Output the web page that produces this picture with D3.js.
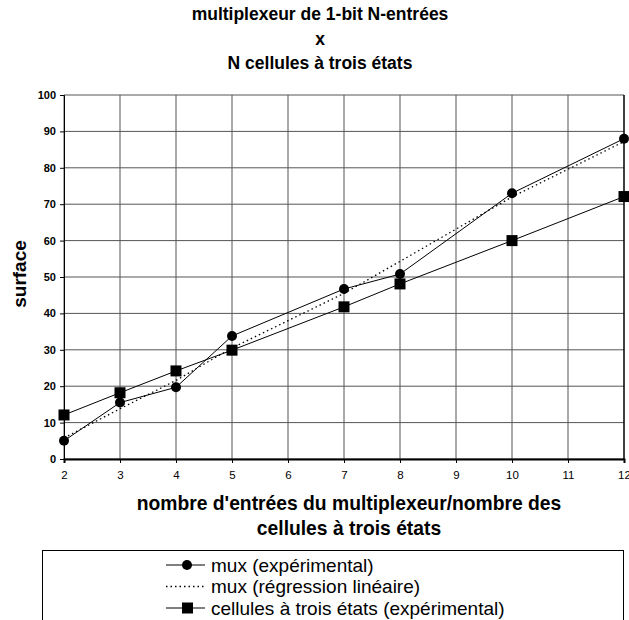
<!DOCTYPE html>
<html>
<head>
<meta charset="utf-8">
<script src="https://cdn.jsdelivr.net/npm/d3@7"></script>
<style>
  html, body { margin: 0; padding: 0; background: #fff; }
  svg { display: block; font-family: Arial, "Liberation Sans", sans-serif; }
</style>
</head>
<body>
<div id="chart"></div>
<script>
// x values (N) where measurements exist
const nValues = [2, 3, 4, 5, 7, 8, 10, 12];
const muxExp = [5, 15.5, 19.7, 33.8, 46.7, 50.8, 73, 88];
const muxReg = [5.8, 13.8, 21.6, 30.5, 45.5, 54.3, 72, 87.2];
const cellsExp = [12.1, 18.2, 24.2, 29.9, 41.8, 48.1, 60, 72.1];

const xTicks = [2, 3, 4, 5, 6, 7, 8, 9, 10, 11, 12];
const yTicks = [0, 10, 20, 30, 40, 50, 60, 70, 80, 90, 100];

const titleLines = ['multiplexeur de 1-bit N-entrées', 'x', 'N cellules à trois états'];
const xLabelLines = ["nombre d'entrées du multiplexeur/nombre des", 'cellules à trois états'];
const legendLabels = ['mux (expérimental)', 'mux (régression linéaire)', 'cellules à trois états (expérimental)'];

const W = 629, H = 620;
const margin = { top: 95, right: 5, bottom: 161, left: 64 };

const svg = d3.select('#chart').append('svg')
  .attr('width', W)
  .attr('height', H);

const x = d3.scaleLinear().domain([2, 12]).range([margin.left, W - margin.right]);
const y = d3.scaleLinear().domain([0, 100]).range([H - margin.bottom, margin.top]);

// title
svg.append('text')
  .attr('text-anchor', 'middle')
  .attr('font-size', 17.5)
  .attr('font-weight', 'bold')
  .selectAll('tspan')
  .data(titleLines)
  .enter()
  .append('tspan')
  .attr('x', 320)
  .attr('y', (d, i) => 20 + i * 24.5)
  .text(d => d);

// grid
svg.append('g')
  .selectAll('line.h')
  .data(yTicks)
  .enter()
  .append('line')
  .attr('x1', x(2)).attr('x2', x(12))
  .attr('y1', d => y(d)).attr('y2', d => y(d))
  .attr('stroke', '#555')
  .attr('stroke-width', 1);

svg.append('g')
  .selectAll('line.v')
  .data(xTicks)
  .enter()
  .append('line')
  .attr('x1', d => x(d)).attr('x2', d => x(d))
  .attr('y1', y(0)).attr('y2', y(100))
  .attr('stroke', d => d === 12 ? '#000' : '#555')
  .attr('stroke-width', d => d === 12 ? 1.5 : 1);

// axes
const yAxis = svg.append('g')
  .attr('transform', `translate(${x(2)},0)`)
  .call(d3.axisLeft(y).tickValues(yTicks).tickSize(4).tickPadding(4));
yAxis.selectAll('text').attr('font-size', 11).attr('font-weight', 'bold').attr('fill', '#000').attr('font-family', null);

const xAxis = svg.append('g')
  .attr('transform', `translate(0,${y(0)})`)
  .call(d3.axisBottom(x).tickValues(xTicks).tickFormat(d3.format('d')).tickSize(4).tickPadding(8));
xAxis.selectAll('text').attr('font-size', 11.5).attr('fill', '#000').attr('font-family', null);
xAxis.select('.domain').attr('stroke-width', 2);

// axis titles
svg.append('text')
  .attr('transform', `translate(26,274) rotate(-90)`)
  .attr('text-anchor', 'middle')
  .attr('font-size', 19)
  .attr('font-weight', 'bold')
  .text('surface');

svg.append('text')
  .attr('text-anchor', 'middle')
  .attr('font-size', 19.3)
  .attr('font-weight', 'bold')
  .selectAll('tspan')
  .data(xLabelLines)
  .enter()
  .append('tspan')
  .attr('x', 349)
  .attr('y', (d, i) => 510 + i * 25)
  .text(d => d);

// series
const line = d3.line()
  .x(d => x(d[0]))
  .y(d => y(d[1]));

const muxPts = nValues.map((n, i) => [n, muxExp[i]]);
const regPts = nValues.map((n, i) => [n, muxReg[i]]);
const cellPts = nValues.map((n, i) => [n, cellsExp[i]]);

svg.append('path')
  .datum(regPts)
  .attr('d', line)
  .attr('fill', 'none')
  .attr('stroke', '#000')
  .attr('stroke-width', 1.3)
  .attr('stroke-dasharray', '1.5,3');

svg.append('path')
  .datum(cellPts)
  .attr('d', line)
  .attr('fill', 'none')
  .attr('stroke', '#000')
  .attr('stroke-width', 1);

svg.append('path')
  .datum(muxPts)
  .attr('d', line)
  .attr('fill', 'none')
  .attr('stroke', '#000')
  .attr('stroke-width', 1);

svg.selectAll('rect.cell')
  .data(cellPts)
  .enter()
  .append('rect')
  .attr('class', 'cell')
  .attr('x', d => x(d[0]) - 5.5)
  .attr('y', d => y(d[1]) - 5.5)
  .attr('width', 11)
  .attr('height', 11)
  .attr('fill', '#000');

svg.selectAll('circle.mux')
  .data(muxPts)
  .enter()
  .append('circle')
  .attr('class', 'mux')
  .attr('cx', d => x(d[0]))
  .attr('cy', d => y(d[1]))
  .attr('r', 5)
  .attr('fill', '#000');

// legend
const legend = svg.append('g');
legend.append('rect')
  .attr('x', 42.5)
  .attr('y', 550.5)
  .attr('width', 581)
  .attr('height', 80)
  .attr('fill', 'none')
  .attr('stroke', '#000')
  .attr('stroke-width', 1);

const items = legend.selectAll('g.item')
  .data(legendLabels)
  .enter()
  .append('g')
  .attr('transform', (d, i) => `translate(166,${565 + i * 21.5})`);

items.append('line')
  .attr('x1', 0).attr('x2', 39)
  .attr('stroke', '#000')
  .attr('stroke-width', (d, i) => i === 1 ? 1.3 : 1)
  .attr('stroke-dasharray', (d, i) => i === 1 ? '1.5,3' : null);

items.filter((d, i) => i === 0).append('circle')
  .attr('cx', 21).attr('r', 5).attr('fill', '#000');
items.filter((d, i) => i === 2).append('rect')
  .attr('x', 16).attr('y', -5.5).attr('width', 11).attr('height', 11).attr('fill', '#000');

items.append('text')
  .attr('x', 45)
  .attr('dy', '0.35em')
  .attr('font-size', 19)
  .text(d => d);
</script>
</body>
</html>
